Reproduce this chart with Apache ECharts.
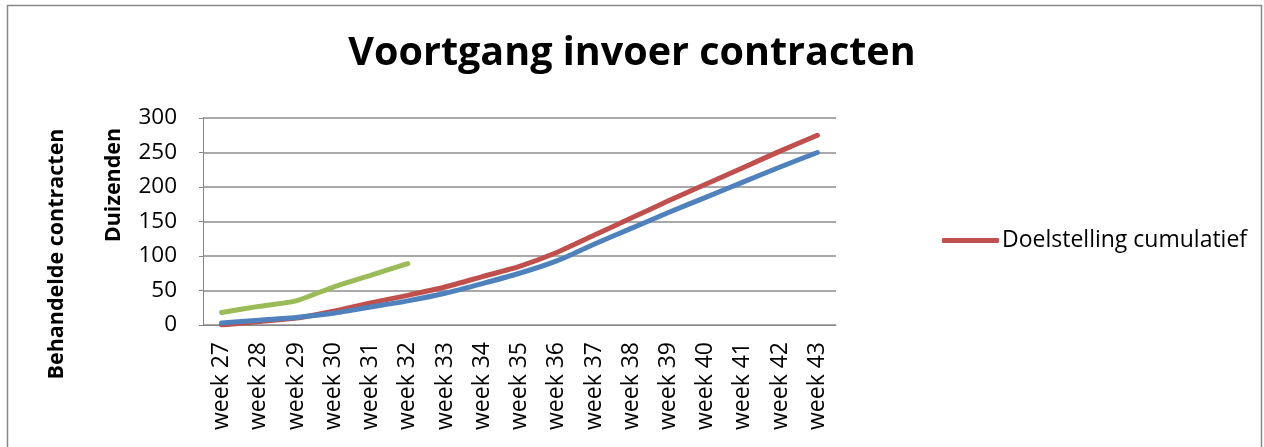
<!DOCTYPE html>
<html>
<head>
<meta charset="utf-8">
<script src="https://cdn.jsdelivr.net/npm/echarts@6/dist/echarts.min.js"></script>
<style>
html,body{margin:0;padding:0;background:#fff;}
#chart{width:1264px;height:447px;}
</style>
</head>
<body>
<div id="chart"></div>
<script>
const categories = ['week 27','week 28','week 29','week 30','week 31','week 32','week 33','week 34','week 35','week 36','week 37','week 38','week 39','week 40','week 41','week 42','week 43'];
const doelstelling = [0, 5, 10, 20, 32, 43, 55, 70, 85, 105, 130, 155, 180, 204, 228, 252, 275];
const prognose = [3, 7, 11, 17, 26, 35, 46, 60, 75, 93, 117, 140, 163, 185, 207, 229, 250];
const realisatie = [18, 27, 35, 55, 72, 89];
const yTicks = [0, 50, 100, 150, 200, 250, 300];

const FONT = '"Open Sans", "Noto Sans", sans-serif';
const chart = echarts.init(document.getElementById('chart'), null, {renderer:'canvas'});
chart.setOption({
  animation: false,
  backgroundColor: '#fff',
  title: {
    text: 'Voortgang invoer contracten',
    left: 'center', top: 29,
    textStyle: {fontFamily: FONT, fontWeight: 'bold', fontSize: 39.5, color: '#000'}
  },
  legend: {
    data: [{name: 'Doelstelling cumulatief', icon: 'roundRect'}],
    left: 937, top: 224,
    itemWidth: 57, itemHeight: 5,
    textStyle: {fontFamily: FONT, fontSize: 23, color: '#000', padding: [0,0,0,-2]}
  },
  grid: {left: 203, right: 428, top: 118, bottom: 122},
  xAxis: {
    type: 'category', data: categories, boundaryGap: true,
    axisLine: {lineStyle: {color: '#868686', width: 1}},
    axisTick: {show: false},
    axisLabel: {rotate: 90, margin: 17, fontFamily: FONT, fontSize: 23, color: '#000'}
  },
  yAxis: {
    type: 'value', min: yTicks[0], max: yTicks[yTicks.length-1], interval: 50,
    axisLine: {show: true, lineStyle: {color: '#868686', width: 1}},
    axisTick: {show: true, length: 4, lineStyle: {color: '#868686'}},
    axisLabel: {margin: 26, fontFamily: FONT, fontSize: 22.5, color: '#000'},
    splitLine: {lineStyle: {color: '#8c8c8c', width: 1.5}}
  },
  graphic: [
    {type: 'rect', shape: {x: 7.5, y: 5.5, width: 1254, height: 460}, style: {fill: 'none', stroke: '#888', lineWidth: 1.5}, silent: true},
    {type: 'text', x: 57, y: 254, rotation: Math.PI/2, style: {text: 'Behandelde contracten', fontFamily: FONT, fontWeight: 'bold', fontSize: 21.5, fill: '#000', align: 'center', verticalAlign: 'middle'}},
    {type: 'text', x: 114, y: 185, rotation: Math.PI/2, style: {text: 'Duizenden', fontFamily: FONT, fontWeight: 'bold', fontSize: 21.5, fill: '#000', align: 'center', verticalAlign: 'middle'}}
  ],
  series: [
    {name: 'Doelstelling cumulatief', type: 'line', data: doelstelling, symbol: 'none', smooth: 0.2,
     lineStyle: {color: '#C0504D', width: 5, cap: 'round', join: 'round'}, itemStyle: {color: '#C0504D'}},
    {name: 'Prognose', type: 'line', data: prognose, symbol: 'none', smooth: 0.2,
     lineStyle: {color: '#4F81BD', width: 5, cap: 'round', join: 'round'}, itemStyle: {color: '#4F81BD'}},
    {name: 'Realisatie', type: 'line', data: realisatie, symbol: 'none', smooth: 0.2,
     lineStyle: {color: '#9BBB59', width: 5, cap: 'round', join: 'round'}, itemStyle: {color: '#9BBB59'}}
  ]
});
</script>
</body>
</html>
